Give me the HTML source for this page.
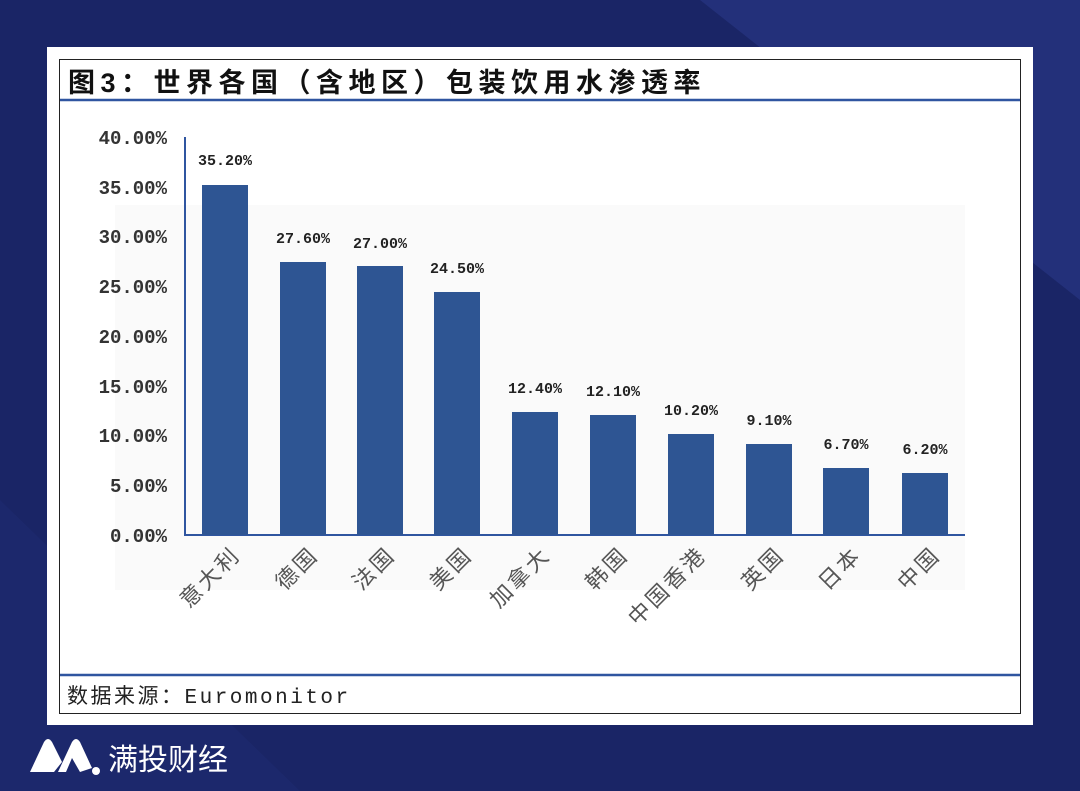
<!DOCTYPE html><html><head><meta charset="utf-8"><style>
body{margin:0;width:1080px;height:791px;overflow:hidden;background:#1a2566;font-family:"Liberation Sans","Noto Sans CJK SC",sans-serif}
</style></head><body>
<svg width="1080" height="791" style="position:absolute;left:0;top:0">
<polygon points="700,0 1080,0 1080,300" fill="#23307a"/>
<polygon points="0,500 0,791 300,791" fill="#1c286c"/>
<rect x="47" y="47" width="986" height="678" fill="#fff"/>
<rect x="59.5" y="59.5" width="961" height="654" fill="#fff" stroke="#222" stroke-width="1"/>
<rect x="115" y="205" width="850" height="385" fill="#fafafa"/>
<text x="68" y="92" font-size="27" font-weight="bold" fill="#111" font-family="Liberation Sans,Noto Sans CJK SC,sans-serif" letter-spacing="5.5">图3：世界各国（含地区）包装饮用水渗透率</text>
<line x1="60" y1="100" x2="1020" y2="100" stroke="#2f55a0" stroke-width="2.5"/>
<line x1="60" y1="675" x2="1020" y2="675" stroke="#2f55a0" stroke-width="2.5"/>
<text x="67" y="703" font-size="21" fill="#222" font-family="Liberation Mono,Noto Sans CJK SC,monospace" letter-spacing="2.5">数据来源：Euromonitor</text>
<g font-size="19" font-weight="bold" fill="#333" text-anchor="end" font-family="Liberation Mono,monospace">
<text x="167" y="144">40.00%</text><text x="167" y="194">35.00%</text><text x="167" y="243">30.00%</text><text x="167" y="293">25.00%</text><text x="167" y="343">20.00%</text><text x="167" y="393">15.00%</text><text x="167" y="442">10.00%</text><text x="167" y="492">5.00%</text><text x="167" y="542">0.00%</text>
</g>
<line x1="185" y1="137" x2="185" y2="536" stroke="#2f55a0" stroke-width="2"/>
<line x1="185" y1="535" x2="965" y2="535" stroke="#2f55a0" stroke-width="2"/>
<g fill="#2e5593">
<rect x="202" y="185" width="46" height="350"/><rect x="280" y="262" width="46" height="273"/><rect x="357" y="266" width="46" height="269"/><rect x="434" y="292" width="46" height="243"/><rect x="512" y="412" width="46" height="123"/><rect x="590" y="415" width="46" height="120"/><rect x="668" y="434" width="46" height="101"/><rect x="746" y="444" width="46" height="91"/><rect x="823" y="468" width="46" height="67"/><rect x="902" y="473" width="46" height="62"/>
</g>
<g font-size="15" font-weight="bold" fill="#222" text-anchor="middle" font-family="Liberation Mono,monospace">
<text x="225" y="165">35.20%</text><text x="303" y="243">27.60%</text><text x="380" y="248">27.00%</text><text x="457" y="273">24.50%</text><text x="535" y="393">12.40%</text><text x="613" y="396">12.10%</text><text x="691" y="415">10.20%</text><text x="769" y="425">9.10%</text><text x="846" y="449">6.70%</text><text x="925" y="454">6.20%</text>
</g>
<g font-size="22" fill="#555" text-anchor="end" letter-spacing="3">
<text transform="translate(242,556) rotate(-45)">意大利</text>
<text transform="translate(320,556) rotate(-45)">德国</text>
<text transform="translate(397,556) rotate(-45)">法国</text>
<text transform="translate(474,556) rotate(-45)">美国</text>
<text transform="translate(552,556) rotate(-45)">加拿大</text>
<text transform="translate(630,556) rotate(-45)">韩国</text>
<text transform="translate(708,556) rotate(-45)">中国香港</text>
<text transform="translate(786,556) rotate(-45)">英国</text>
<text transform="translate(863,556) rotate(-45)">日本</text>
<text transform="translate(942,556) rotate(-45)">中国</text>
</g>
<g fill="#fff">
<path d="M30,772 L44,742 Q48,736 52,742 L62,762 L54,772 Z"/>
<path d="M58,772 L72,742 Q76,736 80,742 L92,768 L80,772 L72,758 L66,772 Z"/>
<circle cx="96" cy="771" r="4"/>
</g>
<text x="108" y="770" font-size="30" fill="#fff" font-family="Noto Sans CJK SC,sans-serif">满投财经</text>
</svg>
</body></html>
